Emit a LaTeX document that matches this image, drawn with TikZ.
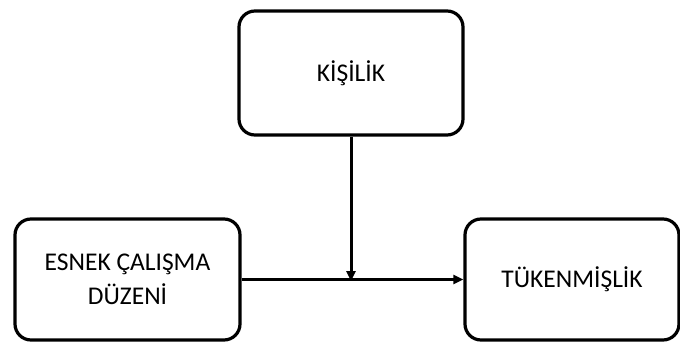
\documentclass[tikz,border=0pt]{standalone}
\usepackage{fontspec}
\setmainfont{Carlito}
\usetikzlibrary{arrows.meta}
\begin{document}
\begin{tikzpicture}[x=1pt,y=-1pt,
  box/.style={draw=black, line width=3.2pt, rounded corners=16pt, fill=white,
    inner sep=0pt, align=center, font=\fontsize{25.5}{34}\selectfont},
  link/.style={line width=3pt, -{Triangle[length=10pt,width=9pt]}}]
  \useasboundingbox (0,0) rectangle (680,343);
  % the three construct boxes
  \node[box, minimum width=224pt, minimum height=124pt] (kis) at (351,73) {KİŞİLİK};
  \node[box, minimum width=225pt, minimum height=121pt] (esn) at (127.5,279.5) {ESNEK ÇALIŞMA\\DÜZENİ};
  \node[box, minimum width=214pt, minimum height=121pt] (tuk) at (572,279.5) {TÜKENMİŞLİK};
  % moderator meets the main path here
  \coordinate (m) at (kis.south |- esn.east);
  \draw[link] (esn.east) -- (tuk.west);
  \draw[link] (kis.south) -- ([yshift=-1.5pt]m);
\end{tikzpicture}
\end{document}
